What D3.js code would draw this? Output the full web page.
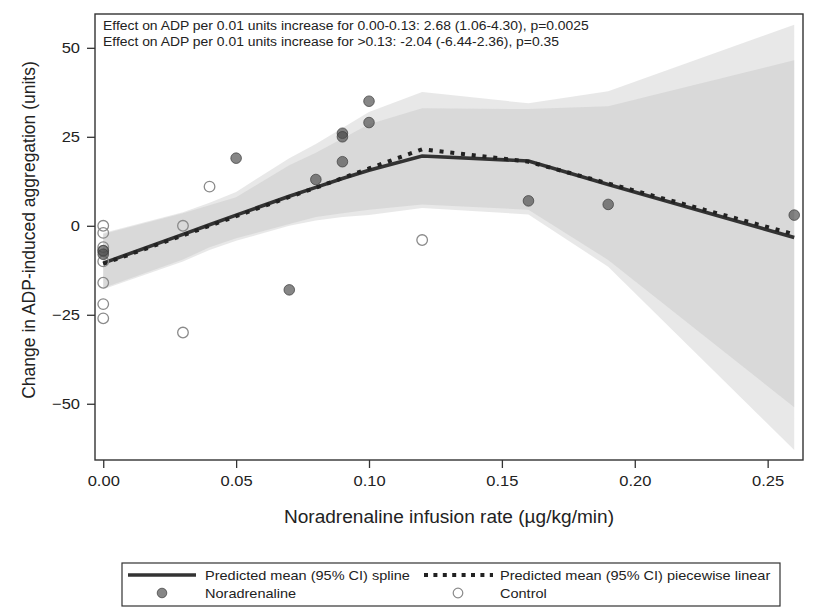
<!DOCTYPE html>
<html>
<head>
<meta charset="utf-8">
<script src="https://cdn.jsdelivr.net/npm/d3@7"></script>
<style>
  html, body { margin: 0; padding: 0; background: #fff; }
  svg text { font-family: "Liberation Sans", Arial, sans-serif; fill: #222; }
</style>
</head>
<body>
<svg id="chart" width="818" height="613"></svg>
<script>
// ---- data ----
const xVals = [0, 0.03, 0.04, 0.05, 0.07, 0.08, 0.09, 0.10, 0.12, 0.16, 0.19, 0.26];
const splineMean = [-10.5, -2.4, 0.3, 3.0, 8.3, 10.8, 13.3, 15.6, 19.6, 18.2, 11.6, -3.3];
const splineLower = [-17.5, -9.5, -6.0, -3.5, 0.5, 2.5, 3.5, 4.5, 6.0, 4.5, -9.6, -51.0];
const splineUpper = [-2.3, 3.5, 5.8, 8.0, 17.0, 20.5, 24.5, 28.5, 33.0, 32.8, 33.6, 46.5];
const pwMean = [-10.7, -2.7, 0.0, 2.7, 8.1, 10.7, 13.4, 16.1, 21.5, 18.0, 11.9, -2.4];
const pwLower = [-17.8, -10.0, -6.8, -4.2, 0.0, 1.5, 2.5, 3.0, 5.0, 3.2, -11.5, -63.0];
const pwUpper = [-2.0, 3.8, 6.5, 9.5, 19.0, 23.0, 27.5, 32.0, 37.6, 34.4, 37.8, 56.5];

const noraX = [0, 0, 0.05, 0.07, 0.08, 0.09, 0.09, 0.09, 0.10, 0.10, 0.16, 0.19, 0.26];
const noraY = [-7, -8, 19, -18, 13, 26, 25, 18, 35, 29, 7, 6, 3];
const ctrlX = [0, 0, 0, 0, 0, 0, 0, 0, 0.03, 0.03, 0.04, 0.12];
const ctrlY = [0, -2, -6, -10, -16, -22, -26, -7, 0, -30, 11, -4];

const xTicks = [0, 0.05, 0.10, 0.15, 0.20, 0.25];
const yTicks = [-50, -25, 0, 25, 50];

const annotation = [
  "Effect on ADP per 0.01 units increase for 0.00-0.13: 2.68 (1.06-4.30), p=0.0025",
  "Effect on ADP per 0.01 units increase for >0.13: -2.04 (-6.44-2.36), p=0.35"
];
const xTitle = "Noradrenaline infusion rate (µg/kg/min)";
const yTitle = "Change in ADP-induced aggregation (units)";
const legendLabels = ["Predicted mean (95% CI) spline", "Predicted mean (95% CI) piecewise linear", "Noradrenaline", "Control"];

// ---- layout ----
const svg = d3.select("#chart");
const L = 95, R = 803, T = 14, B = 460;
const x = d3.scaleLinear().domain([-0.0031, 0.2633]).range([L, R]);
const y = d3.scaleLinear().domain([-65.8, 59.5]).range([B, T]);

// horizontal stretch helper (reference text is wider than the local font)
function stretch(sel, sx) {
  sel.each(function () {
    const w = this.getComputedTextLength();
    d3.select(this).attr("textLength", w * sx).attr("lengthAdjust", "spacingAndGlyphs");
  });
}

const bandColor = "#bdbdbd", bandOpacity = 0.35;
function band(lo, hi) {
  return d3.area()
    .x((d, i) => x(xVals[i]))
    .y0((d, i) => y(lo[i]))
    .y1((d, i) => y(hi[i]))(xVals);
}
svg.append("path").attr("d", band(pwLower, pwUpper)).attr("fill", bandColor).attr("fill-opacity", bandOpacity);
svg.append("path").attr("d", band(splineLower, splineUpper)).attr("fill", bandColor).attr("fill-opacity", bandOpacity);

const line = vals => d3.line().x((d, i) => x(xVals[i])).y((d, i) => y(vals[i]))(xVals);
svg.append("path").attr("d", line(splineMean)).attr("fill", "none")
  .attr("stroke", "#333").attr("stroke-width", 3.6);
svg.append("path").attr("d", line(pwMean)).attr("fill", "none")
  .attr("stroke", "#222").attr("stroke-width", 4).attr("stroke-dasharray", "4,6.8");

// points
svg.append("g").selectAll("circle").data(ctrlX).join("circle")
  .attr("cx", (d) => x(d)).attr("cy", (d, i) => y(ctrlY[i])).attr("r", 5.3)
  .attr("fill", "none").attr("stroke", "#8a8a8a").attr("stroke-width", 1.3);
svg.append("g").selectAll("circle").data(noraX).join("circle")
  .attr("cx", (d) => x(d)).attr("cy", (d, i) => y(noraY[i])).attr("r", 5.3)
  .attr("fill", "#4d4d4d").attr("fill-opacity", 0.68)
  .attr("stroke", "#3a3a3a").attr("stroke-opacity", 0.7).attr("stroke-width", 1);

// frame
svg.append("rect").attr("x", L).attr("y", T).attr("width", R - L).attr("height", B - T)
  .attr("fill", "none").attr("stroke", "#333").attr("stroke-width", 1.4);

// axes
const xAxis = svg.append("g").attr("transform", `translate(0,${B})`)
  .call(d3.axisBottom(x).tickValues(xTicks).tickFormat(d3.format(".2f")).tickSize(8).tickSizeOuter(0).tickPadding(7));
const yAxis = svg.append("g").attr("transform", `translate(${L},0)`)
  .call(d3.axisLeft(y).tickValues(yTicks).tickFormat(d3.format("d")).tickSize(8).tickSizeOuter(0).tickPadding(7));
[xAxis, yAxis].forEach(g => {
  g.select(".domain").remove();
  g.selectAll(".tick line").attr("stroke", "#333").attr("stroke-width", 1.3);
  g.selectAll(".tick text").attr("font-size", 15).attr("fill", "#222")
    .style("font-family", "'Liberation Sans', Arial, sans-serif");
});
stretch(xAxis.selectAll(".tick text"), 1.1);
stretch(yAxis.selectAll(".tick text"), 1.1);

// titles
const xt = svg.append("text").attr("x", (L + R) / 2).attr("y", 523).attr("text-anchor", "middle")
  .attr("font-size", 17.5).text(xTitle);
stretch(xt, 1.09);
svg.append("text").attr("transform", `translate(35,230) rotate(-90)`)
  .attr("text-anchor", "middle").attr("font-size", 17.5).text(yTitle);

// annotation
const ann = svg.append("g").selectAll("text").data(annotation).join("text")
  .attr("x", 103).attr("y", (d, i) => 30 + i * 16).attr("font-size", 12.3).text(d => d);
stretch(ann, 1.13);

// legend
const lg = svg.append("g");
lg.append("rect").attr("x", 122).attr("y", 563).attr("width", 658).attr("height", 43)
  .attr("fill", "#fff").attr("stroke", "#333").attr("stroke-width", 1.2);
const r1 = 575, r2 = 593;
lg.append("line").attr("x1", 128).attr("x2", 196).attr("y1", r1).attr("y2", r1)
  .attr("stroke", "#333").attr("stroke-width", 3.6);
lg.append("line").attr("x1", 424).attr("x2", 493).attr("y1", r1).attr("y2", r1)
  .attr("stroke", "#222").attr("stroke-width", 4).attr("stroke-dasharray", "4,5.4");
lg.append("circle").attr("cx", 162).attr("cy", r2).attr("r", 4.8)
  .attr("fill", "#4d4d4d").attr("fill-opacity", 0.68).attr("stroke", "#3a3a3a").attr("stroke-opacity", 0.7);
lg.append("circle").attr("cx", 458).attr("cy", r2).attr("r", 4.8)
  .attr("fill", "none").attr("stroke", "#8a8a8a").attr("stroke-width", 1.2);
const lt = lg.selectAll("text.lab").data([[205, r1, 0], [500, r1, 1], [205, r2, 2], [500, r2, 3]]).join("text")
  .attr("class", "lab").attr("x", d => d[0]).attr("y", d => d[1] + 5).attr("font-size", 13.5)
  .text(d => legendLabels[d[2]]);
stretch(lt, 1.075);
</script>
</body>
</html>
